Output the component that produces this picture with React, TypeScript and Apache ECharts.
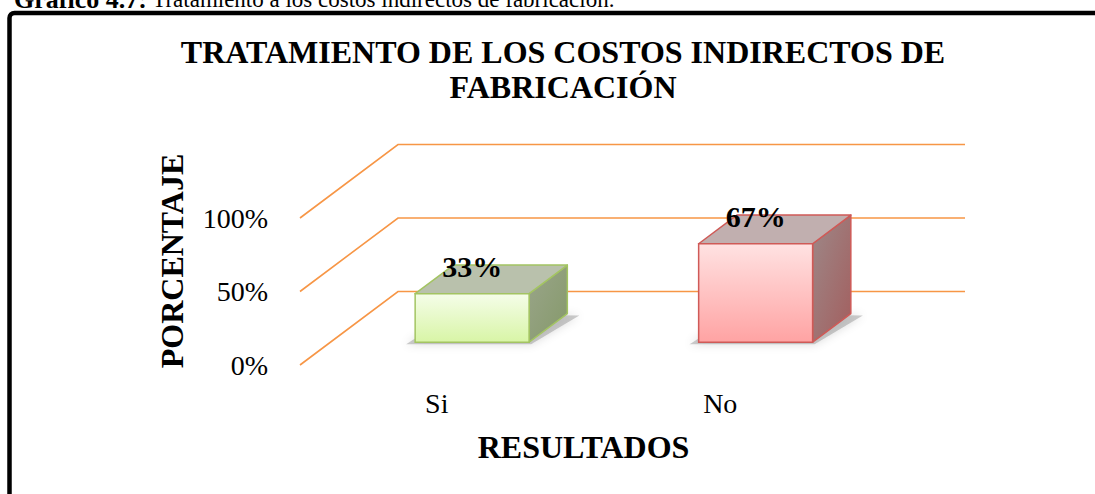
import React, { useEffect, useRef } from "react";
import * as echarts from "echarts";

const categories = ["Si", "No"];
const percentages = [33, 67];
const yTicks = [0, 50, 100];
const chartTitle = "TRATAMIENTO DE LOS COSTOS INDIRECTOS DE\nFABRICACIÓN";
const captionBold = "Gráfico 4.7:";
const captionText = " Tratamiento a los costos indirectos de fabricación.";
const yAxisName = "PORCENTAJE";
const xAxisName = "RESULTADOS";

const SERIF = "Liberation Serif, Times New Roman, serif";
const DEPTH_X = 98;
const DEPTH_Y = -73.5;
const BAR_D0 = 0.31;
const BAR_D1 = 0.7;
const BAR_FRAC = 0.402;
const GRID_COLOR = "#f79646";

const palettes = [
  {
    frontTop: "#f5fde9",
    frontBottom: "#d8f5a6",
    stroke: "#a3c462",
    top: "#b9c1ac",
    sideTop: "#9aa58a",
    sideBottom: "#85996a",
  },
  {
    frontTop: "#ffe2e2",
    frontBottom: "#ffa3a3",
    stroke: "#cf5a57",
    top: "#c1afaf",
    sideTop: "#9d8888",
    sideBottom: "#a35e5e",
  },
];

export default function App() {
  const ref = useRef<HTMLDivElement>(null);
  useEffect(() => {
    if (!ref.current) return;
    const chart = echarts.init(ref.current, null, { renderer: "svg" });

    const gridRender = (params: any, api: any) => {
      const cs = params.coordSys;
      const v = api.value(1);
      const y = api.coord([0, v])[1];
      const x0 = cs.x;
      return {
        type: "polyline",
        shape: {
          points: [
            [x0, y],
            [x0 + DEPTH_X, y + DEPTH_Y],
            [x0 + cs.width + DEPTH_X, y + DEPTH_Y],
          ],
        },
        style: { stroke: GRID_COLOR, lineWidth: 1.6, fill: "none" },
        silent: true,
      };
    };

    const barRender = (params: any, api: any) => {
      const idx = params.dataIndex;
      const cat = api.value(0);
      const val = api.value(1);
      const base = api.coord([cat, 0]);
      const topP = api.coord([cat, val]);
      const band = api.size([1, 0])[0];
      const w = band * BAR_FRAC;
      const fx = base[0] - w / 2 + DEPTH_X * BAR_D0;
      const yb = base[1] + DEPTH_Y * BAR_D0;
      const yt = topP[1] + DEPTH_Y * BAR_D0;
      const bdx = DEPTH_X * (BAR_D1 - BAR_D0);
      const bdy = DEPTH_Y * (BAR_D1 - BAR_D0);
      const p = palettes[idx % palettes.length];
      return {
        type: "group",
        children: [
          {
            type: "polygon",
            shape: {
              points: [
                [fx - 9, yb + 2],
                [fx + w + 2, yb + 2],
                [fx + w + bdx + 12, yb + bdy + 2],
                [fx + bdx, yb + bdy],
              ],
            },
            style: {
              fill: "rgba(110,110,110,0.35)",
              shadowBlur: 10,
              shadowColor: "rgba(0,0,0,0.4)",
            },
          },
          {
            type: "polygon",
            shape: {
              points: [
                [fx + w, yt],
                [fx + w + bdx, yt + bdy],
                [fx + w + bdx, yb + bdy],
                [fx + w, yb],
              ],
            },
            style: {
              fill: new echarts.graphic.LinearGradient(0, 0, 1, 1, [
                { offset: 0, color: p.sideTop },
                { offset: 1, color: p.sideBottom },
              ]),
              stroke: p.stroke,
              lineWidth: 1.5,
              lineJoin: "round",
            },
          },
          {
            type: "polygon",
            shape: {
              points: [
                [fx, yt],
                [fx + w, yt],
                [fx + w + bdx, yt + bdy],
                [fx + bdx, yt + bdy],
              ],
            },
            style: { fill: p.top, stroke: p.stroke, lineWidth: 1.5, lineJoin: "round" },
          },
          {
            type: "rect",
            shape: { x: fx, y: yt, width: w, height: yb - yt },
            style: {
              fill: new echarts.graphic.LinearGradient(0, 0, 0, 1, [
                { offset: 0, color: p.frontTop },
                { offset: 1, color: p.frontBottom },
              ]),
              stroke: p.stroke,
              lineWidth: 1.5,
            },
          },
          {
            type: "text",
            x: fx + w / 2,
            y: yt - 27,
            style: {
              text: val + "%",
              fill: "#000",
              fontFamily: SERIF,
              fontWeight: "bold",
              fontSize: 30,
              align: "center",
              verticalAlign: "middle",
            },
          },
        ],
      };
    };

    chart.setOption({
      animation: false,
      backgroundColor: "#fff",
      title: {
        text: chartTitle,
        left: 558,
        top: 29,
        textAlign: "center",
        textStyle: {
          fontFamily: SERIF,
          fontWeight: "bold",
          fontSize: 32,
          lineHeight: 35,
          color: "#000",
        },
      },
      grid: { left: 300, top: 218, width: 567, height: 147, containLabel: false },
      xAxis: {
        type: "category",
        data: categories,
        name: xAxisName,
        nameLocation: "middle",
        nameGap: 66,
        nameTextStyle: {
          fontFamily: SERIF,
          fontWeight: "bold",
          fontSize: 32,
          color: "#000",
        },
        axisLine: { show: false },
        axisTick: { show: false },
        axisLabel: {
          fontFamily: SERIF,
          fontSize: 28,
          color: "#000",
          margin: 24,
          padding: [0, 10, 0, 0],
        },
        splitLine: { show: false },
      },
      yAxis: {
        type: "value",
        min: 0,
        max: 100,
        interval: 50,
        axisLine: { show: false },
        axisTick: { show: false },
        splitLine: { show: false },
        axisLabel: {
          formatter: "{value}%",
          fontFamily: SERIF,
          fontSize: 28,
          color: "#000",
          margin: 32,
        },
      },
      graphic: [
        {
          type: "rect",
          shape: { x: 9.5, y: 13, width: 1300, height: 800, r: 5 },
          style: { fill: "none", stroke: "#000", lineWidth: 4.5 },
          silent: true,
          z: 100,
        },
        {
          type: "text",
          x: 14,
          y: 12,
          style: {
            text: "{b|" + captionBold + "}" + captionText,
            fontFamily: SERIF,
            fontSize: 23,
            fill: "#000",
            verticalAlign: "bottom",
            rich: {
              b: { fontFamily: SERIF, fontWeight: "bold", fontSize: 26, fill: "#000" },
            },
          },
          silent: true,
        },
        {
          type: "text",
          x: 172,
          y: 261,
          rotation: Math.PI / 2,
          style: {
            text: yAxisName,
            fontFamily: SERIF,
            fontWeight: "bold",
            fontSize: 32,
            fill: "#000",
            align: "center",
            verticalAlign: "middle",
          },
          silent: true,
        },
      ],
      series: [
        {
          type: "custom",
          z: 1,
          clip: false,
          renderItem: gridRender,
          data: yTicks.map((t) => [0, t]),
          silent: true,
        },
        {
          type: "custom",
          z: 2,
          clip: false,
          renderItem: barRender,
          data: categories.map((c, i) => [i, percentages[i]]),
          silent: true,
        },
      ],
    });
    return () => chart.dispose();
  }, []);

  return (
    <div
      ref={ref}
      style={{ position: "fixed", left: 0, top: 0, width: 1095, height: 494 }}
    />
  );
}
